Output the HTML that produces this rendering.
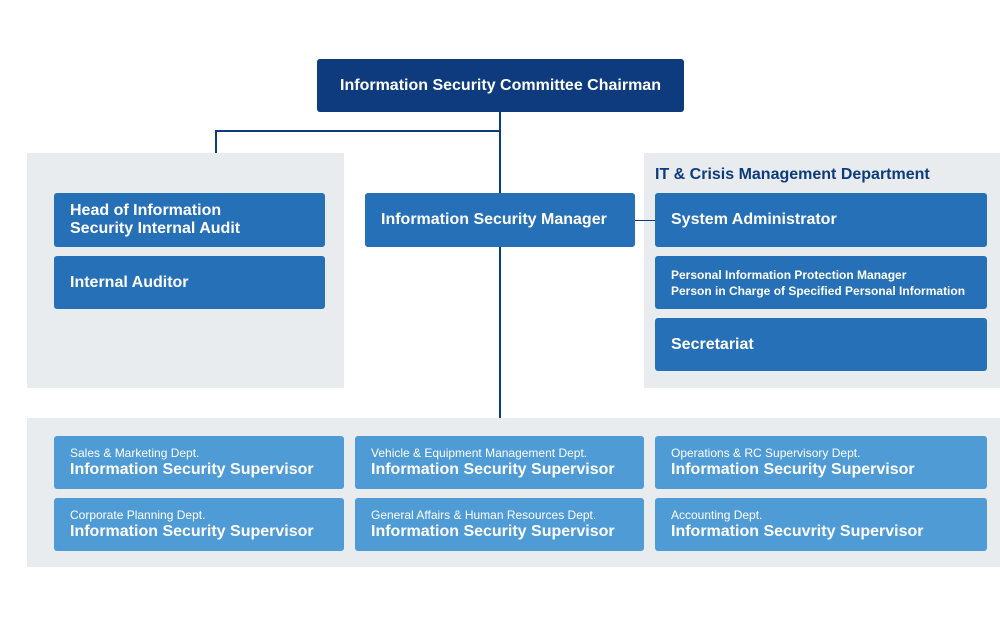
<!DOCTYPE html>
<html><head><style>
body{margin:0;width:1000px;height:623px;background:#fff;position:relative;overflow:hidden;font-family:"Liberation Sans",sans-serif;}
div{position:absolute;box-sizing:border-box;}
.p{background:#e9ecee;}
.b{background:#2670b8;color:#fff;border-radius:3px;font-weight:bold;font-size:16px;padding-left:16px;display:flex;flex-direction:column;justify-content:center;}
.l{background:#4f9bd6;color:#fff;border-radius:3px;font-weight:bold;font-size:16px;padding-left:16px;display:flex;flex-direction:column;justify-content:center;line-height:18px;}
.l small{font-size:12px;font-weight:normal;line-height:15px;}
.ln{background:#0d3b7e;}
</style></head><body>
<div class="p" style="left:27px;top:153px;width:317px;height:235px"></div>
<div class="p" style="left:644px;top:153px;width:356px;height:235px"></div>
<div class="p" style="left:27px;top:418px;width:973px;height:149px"></div>
<div class="ln" style="left:499px;top:112px;width:2px;height:306px"></div>
<div class="ln" style="left:215px;top:130px;width:286px;height:2px"></div>
<div class="ln" style="left:215px;top:130px;width:2px;height:23px"></div>
<div class="ln" style="left:635px;top:220px;width:20px;height:1px"></div>
<div style="left:317px;top:59px;width:367px;height:53px;background:#0d3b7e;border-radius:3px;color:#fff;font-weight:bold;font-size:16px;display:flex;align-items:center;justify-content:center">Information Security Committee Chairman</div>
<div class="b" style="left:54px;top:193px;width:271px;height:54px;line-height:18px">Head of Information<br>Security Internal Audit</div>
<div class="b" style="left:54px;top:256px;width:271px;height:53px">Internal Auditor</div>
<div class="b" style="left:365px;top:193px;width:270px;height:54px">Information Security Manager</div>
<div style="left:655px;top:166px;color:#0d3b7e;font-weight:bold;font-size:16px">IT &amp; Crisis Management Department</div>
<div class="b" style="left:655px;top:193px;width:332px;height:54px">System Administrator</div>
<div class="b" style="left:655px;top:256px;width:332px;height:53px;font-size:12px;line-height:16px">Personal Information Protection Manager<br>Person in Charge of Specified Personal Information</div>
<div class="b" style="left:655px;top:318px;width:332px;height:53px">Secretariat</div>
<div class="l" style="left:54px;top:436px;width:290px;height:53px"><small>Sales &amp; Marketing Dept.</small>Information Security Supervisor</div>
<div class="l" style="left:355px;top:436px;width:289px;height:53px"><small>Vehicle &amp; Equipment Management Dept.</small>Information Security Supervisor</div>
<div class="l" style="left:655px;top:436px;width:332px;height:53px"><small>Operations &amp; RC Supervisory Dept.</small>Information Security Supervisor</div>
<div class="l" style="left:54px;top:498px;width:290px;height:53px"><small>Corporate Planning Dept.</small>Information Security Supervisor</div>
<div class="l" style="left:355px;top:498px;width:289px;height:53px"><small>General Affairs &amp; Human Resources Dept.</small>Information Security Supervisor</div>
<div class="l" style="left:655px;top:498px;width:332px;height:53px"><small>Accounting Dept.</small>Information Secuvrity Supervisor</div>
</body></html>
